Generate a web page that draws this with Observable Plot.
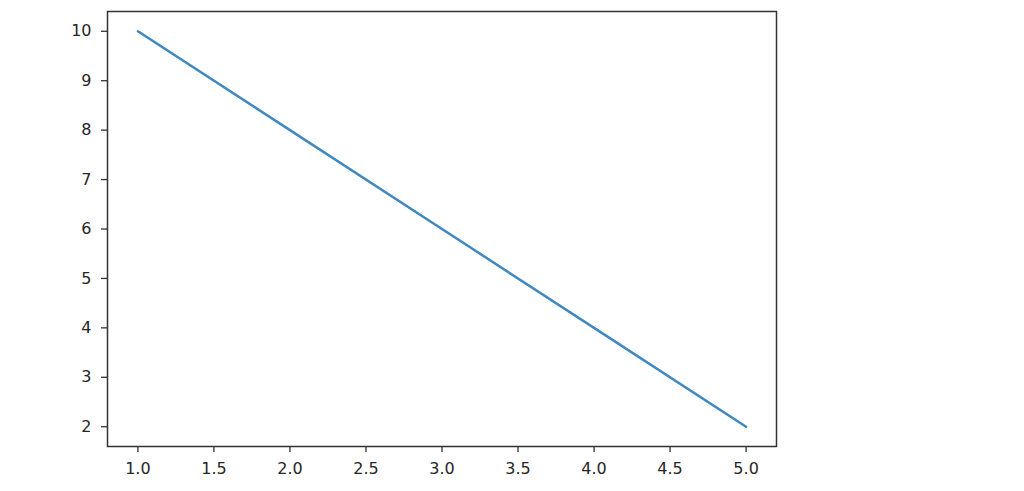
<!DOCTYPE html>
<html>
<head>
<meta charset="utf-8">
<script src="https://cdn.jsdelivr.net/npm/d3@7"></script>
<script src="https://cdn.jsdelivr.net/npm/@observablehq/plot@0.6"></script>
<style>
  html, body { margin: 0; padding: 0; background: #fff; }
  #chart svg { display: block; }
</style>
</head>
<body>
<div id="chart"></div>
<script>
const xValues = [1, 2, 3, 4, 5];
const yValues = [10, 8, 6, 4, 2];
const xTicks = [1.0, 1.5, 2.0, 2.5, 3.0, 3.5, 4.0, 4.5, 5.0];
const yTicks = [2, 3, 4, 5, 6, 7, 8, 9, 10];

const data = xValues.map((x, i) => ({x, y: yValues[i]}));

const chart = Plot.plot({
  width: 1024,
  height: 491,
  marginLeft: 107,
  marginRight: 248,
  marginTop: 11,
  marginBottom: 45,
  style: {fontFamily: "DejaVu Sans", fontSize: "16px", color: "#262626", background: "#fff"},
  x: {domain: [0.8, 5.2]},
  y: {domain: [1.6, 10.4]},
  marks: [
    Plot.frame({stroke: "#333", strokeWidth: 1.5}),
    Plot.axisX(xTicks, {tickSize: 6, tickPadding: 10, tickFormat: d3.format(".1f"), stroke: "#333", strokeWidth: 1.3, label: null, fontSize: 16}),
    Plot.axisY(yTicks, {tickSize: 6, tickPadding: 10, tickFormat: d3.format("d"), stroke: "#333", strokeWidth: 1.3, label: null, fontSize: 16}),
    Plot.line(data, {x: "x", y: "y", stroke: "#4088c0", strokeWidth: 2.5})
  ]
});
document.getElementById("chart").append(chart);
</script>
</body>
</html>
